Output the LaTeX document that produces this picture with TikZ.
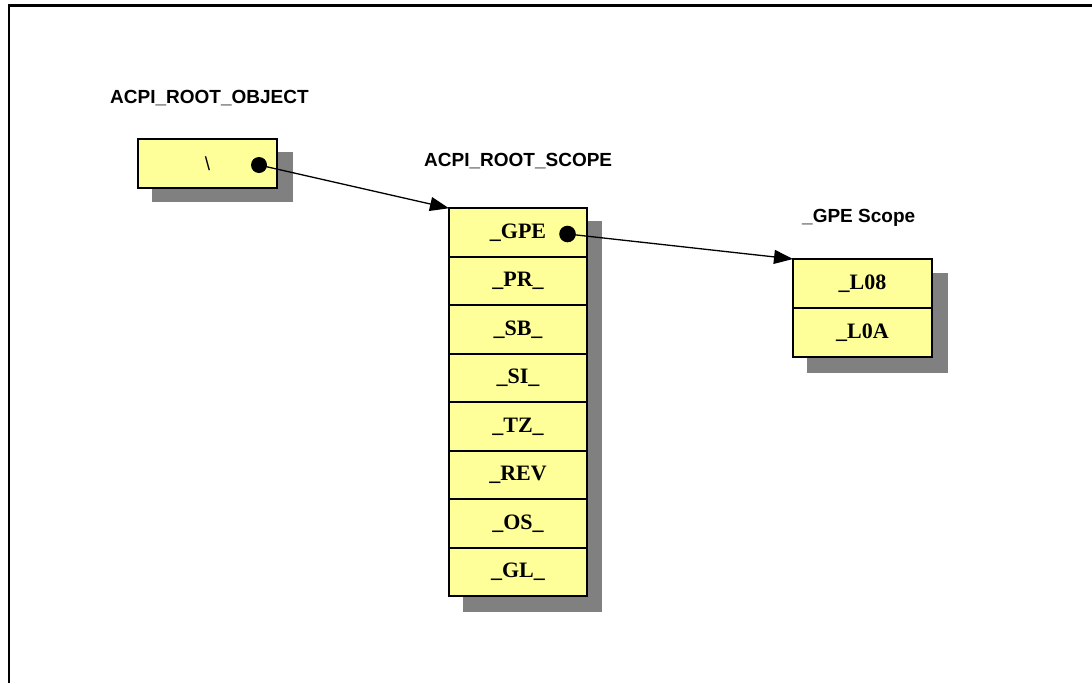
\documentclass[tikz,border=0pt]{standalone}
\usepackage{fontspec}
\setmainfont{Liberation Serif}
\setsansfont{Liberation Sans}
\usetikzlibrary{calc, positioning, arrows.meta, backgrounds}

\definecolor{cellyellow}{HTML}{FFFF99}
\definecolor{shadowgray}{HTML}{808080}

\begin{document}
\begin{tikzpicture}[x=1pt, y=-1pt,
    cell/.style={draw, line width=1.6pt, fill=cellyellow, minimum width=138pt, minimum height=48.5pt,
        inner sep=0pt, outer sep=0pt, font=\fontsize{22}{25}\selectfont\bfseries},
    title/.style={anchor=base west, inner sep=0pt, font=\sffamily\bfseries\fontsize{19}{22}\selectfont},
    shadowbox/.style={fill=shadowgray},
    link/.style={line width=1.3pt, -{Triangle[length=19pt, width=14pt]}},
    pin/.style={fill=black}]
        \useasboundingbox (0,0) rectangle (1092,683);
        \draw[line width=2.2pt] (1092,5.5) -- (9,5.5) -- (9,683);

        \node[title] (objlabel) at (110,103) {ACPI\_ROOT\_OBJECT};
        \node[title] (scopelabel) at (424,166) {ACPI\_ROOT\_SCOPE};
        \node[title] (gpelabel) at (802,222) {\_GPE Scope};

        \node[cell, minimum width=139pt, minimum height=49pt, font=\sffamily\fontsize{19}{22}\selectfont] (root) at (207.5,163.5) {\textbackslash};

        \node[cell] (gpe) at (518,232.5) {\_GPE};
        \node[cell, below=0pt of gpe] (pr) {\_PR\_};
        \node[cell, below=0pt of pr] (sb) {\_SB\_};
        \node[cell, below=0pt of sb] (si) {\_SI\_};
        \node[cell, below=0pt of si] (tz) {\_TZ\_};
        \node[cell, below=0pt of tz] (rev) {\_REV};
        \node[cell, below=0pt of rev] (os) {\_OS\_};
        \node[cell, below=0pt of os] (gl) {\_GL\_};

        \node[cell, minimum width=139pt, minimum height=49pt] (l08) at (862.5,283.5) {\_L08};
        \node[cell, minimum width=139pt, minimum height=49pt, below=0pt of l08] (l0a) {\_L0A};

        \begin{scope}[on background layer]
            \fill[shadowbox] ($(root.north west)+(14,13)$) rectangle ($(root.south east)+(16,14)$);
            \fill[shadowbox] ($(gpe.north west)+(14,13)$) rectangle ($(gl.south east)+(15,16)$);
            \fill[shadowbox] ($(l08.north west)+(14,14)$) rectangle ($(l0a.south east)+(16,16)$);
        \end{scope}

        \coordinate (rootpin) at (259,165);
        \coordinate (gpepin) at (567.5,234);
        \fill[pin] (rootpin) circle[radius=8pt];
        \fill[pin] (gpepin) circle[radius=8.3pt];
        \draw[link] (rootpin) -- (gpe.north west);
        \draw[link] (gpepin) -- (l08.north west);
    \end{tikzpicture}
\end{document}
